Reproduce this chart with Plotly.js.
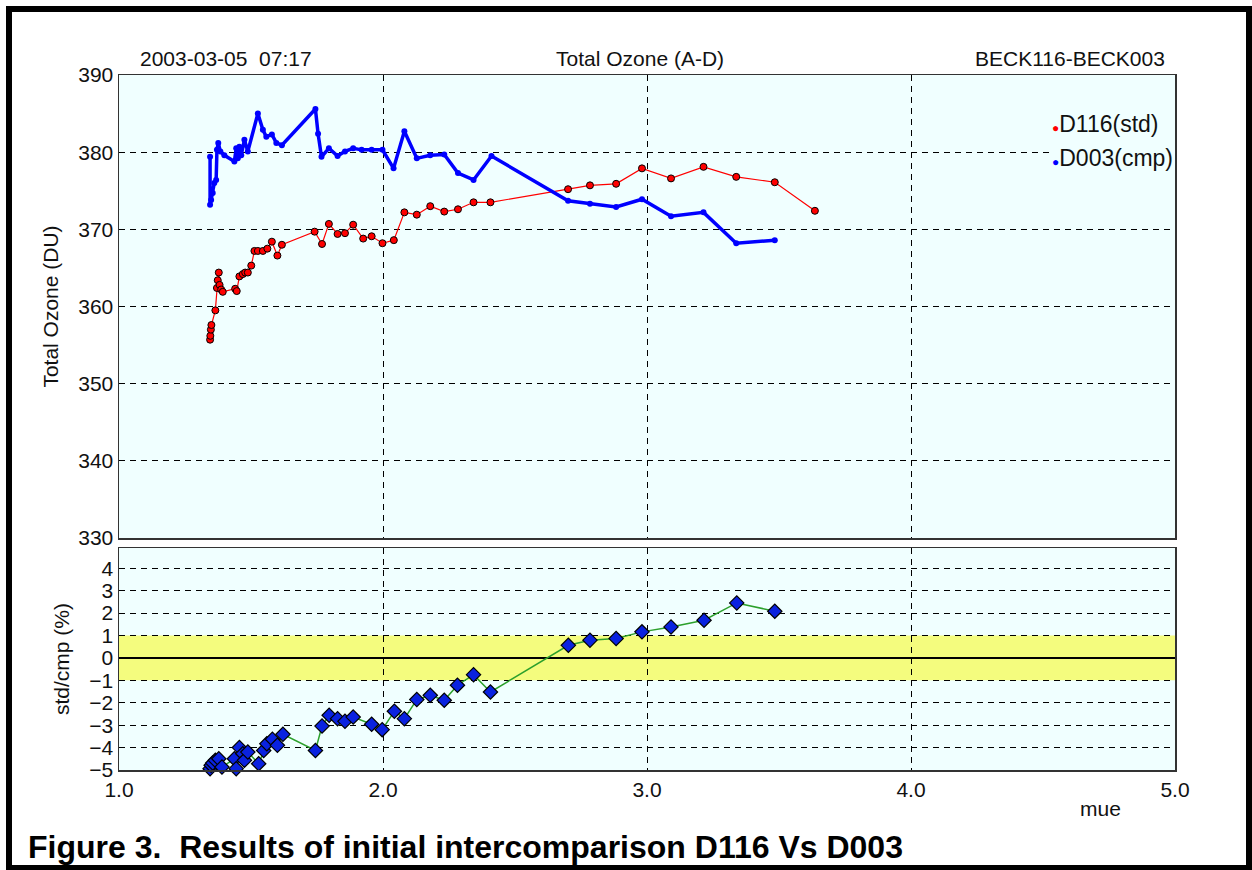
<!DOCTYPE html>
<html>
<head>
<meta charset="utf-8">
<script src="https://cdn.plot.ly/plotly-3.0.1.min.js"></script>
<style>html,body{margin:0;padding:0;background:#fff;}#chart{width:1252px;height:870px;}</style>
</head>
<body>
<div id="chart"></div>
<script>
// ---- data ----
const stdX = [1.345,1.346,1.348,1.350,1.365,1.371,1.374,1.378,1.381,1.387,1.393,1.440,1.446,1.456,1.469,1.478,1.488,1.501,1.513,1.526,1.545,1.562,1.579,1.600,1.617,1.741,1.769,1.795,1.828,1.856,1.887,1.925,1.957,1.998,2.041,2.081,2.128,2.179,2.232,2.284,2.343,2.407,2.701,2.784,2.883,2.981,3.091,3.214,3.338,3.484,3.636];
const stdY = [355.7,356.2,357.0,357.6,359.5,362.4,363.4,364.4,362.8,362.2,361.9,362.3,362.0,363.9,364.2,364.4,364.4,365.3,367.2,367.2,367.2,367.5,368.4,366.6,368.0,369.7,368.1,370.7,369.4,369.5,370.6,368.8,369.1,368.2,368.6,372.2,371.9,373.0,372.3,372.6,373.5,373.5,375.2,375.7,375.9,377.9,376.6,378.1,376.8,376.1,372.4];

const cmpX = [1.345,1.345,1.349,1.355,1.361,1.368,1.371,1.376,1.384,1.399,1.437,1.444,1.450,1.456,1.463,1.475,1.488,1.526,1.545,1.558,1.579,1.596,1.617,1.744,1.754,1.767,1.795,1.828,1.856,1.887,1.919,1.957,1.998,2.040,2.081,2.128,2.179,2.232,2.284,2.343,2.411,2.701,2.784,2.883,2.981,3.091,3.214,3.338,3.484];
const cmpY = [379.4,373.2,373.8,374.7,376.0,376.4,380.3,381.2,380.1,379.6,378.8,380.5,379.2,380.7,379.6,381.6,380.1,385.0,382.9,382.0,382.3,381.2,380.9,385.6,382.4,379.4,380.5,379.5,380.1,380.5,380.3,380.3,380.3,377.9,382.7,379.2,379.6,379.7,377.3,376.4,379.5,373.7,373.3,372.9,373.9,371.7,372.2,368.2,368.6];

const ratioX = [1.345,1.349,1.355,1.365,1.378,1.390,1.437,1.444,1.456,1.469,1.475,1.488,1.529,1.548,1.560,1.581,1.600,1.621,1.744,1.769,1.796,1.828,1.856,1.887,1.957,1.997,2.043,2.081,2.128,2.179,2.232,2.282,2.343,2.407,2.702,2.784,2.883,2.981,3.091,3.216,3.340,3.484];
const ratioY = [-4.94,-4.79,-4.69,-4.57,-4.50,-4.87,-4.50,-4.94,-4.00,-4.27,-4.57,-4.20,-4.72,-4.13,-3.83,-3.63,-3.90,-3.41,-4.13,-3.04,-2.56,-2.71,-2.83,-2.64,-2.96,-3.20,-2.38,-2.71,-1.86,-1.67,-1.89,-1.22,-0.75,-1.52,0.56,0.79,0.86,1.16,1.38,1.68,2.45,2.08];

const ozoneTicks = [330,340,350,360,370,380,390];
const ratioTicks = [-5,-4,-3,-2,-1,0,1,2,3,4];
const mueTicks = [1,2,3,4,5];
const mueTickText = ['1.0','2.0','3.0','4.0','5.0'];
const band = [-1, 1];

const seriesNames = ['D116(std)', 'D003(cmp)'];

// ---- geometry helpers (pixel -> paper) ----
const W = 1252, H = 870, L = 119, R = 77, T = 75, B = 100;
const PW = W - L - R, PH = H - T - B;
const px = v => (v - L) / PW;
const py = v => (H - B - v) / PH;

const FONT = 'Liberation Sans, Arial, sans-serif';
const gridDash = '6px,5px';

const traces = [
  {
    x: stdX, y: stdY, xaxis: 'x2', yaxis: 'y', name: seriesNames[0],
    mode: 'lines+markers', showlegend: false,
    line: {color: '#ff0000', width: 1.2},
    marker: {symbol: 'circle', size: 7, color: '#ff0000', line: {color: '#000', width: 1}}
  },
  {
    x: cmpX, y: cmpY, xaxis: 'x2', yaxis: 'y', name: seriesNames[1],
    mode: 'lines+markers', showlegend: false,
    line: {color: '#0000ff', width: 3.5},
    marker: {symbol: 'circle', size: 6, color: '#0000ff'}
  },
  {
    x: ratioX, y: ratioY, xaxis: 'x', yaxis: 'y2', name: 'std/cmp',
    mode: 'lines+markers', showlegend: false, cliponaxis: false,
    line: {color: '#2ca02c', width: 1.5},
    marker: {symbol: 'diamond', size: 11, color: '#0a22e0', line: {color: '#000', width: 1.2}}
  }
];

const axisCommon = {
  showgrid: true, gridcolor: '#000', gridwidth: 1, griddash: gridDash,
  showline: true, mirror: true, linecolor: '#333', linewidth: 1.5,
  ticks: '', zeroline: false,
  tickfont: {family: FONT, size: 21, color: '#111'}
};

const layout = {
  width: W, height: H,
  margin: {l: L, r: R, t: T, b: B, pad: 0},
  paper_bgcolor: '#ffffff',
  plot_bgcolor: '#f0ffff',
  font: {family: FONT, size: 21, color: '#111'},
  showlegend: false,
  xaxis: Object.assign({}, axisCommon, {
    domain: [0, 1], anchor: 'y2', range: [1, 5],
    tickvals: mueTicks, ticktext: mueTickText
  }),
  xaxis2: Object.assign({}, axisCommon, {
    domain: [0, 1], anchor: 'y', matches: 'x', range: [1, 5],
    tickvals: mueTicks, showticklabels: false
  }),
  yaxis: Object.assign({}, axisCommon, {
    domain: [py(538), 1], anchor: 'x2', range: [330, 390],
    tickvals: ozoneTicks,
    title: {text: 'Total Ozone (DU)', font: {family: FONT, size: 21, color: '#111'}, standoff: 14}
  }),
  yaxis2: Object.assign({}, axisCommon, {
    domain: [0, py(548)], anchor: 'x', range: [-5, 4.9],
    tickvals: ratioTicks,
    zeroline: true, zerolinecolor: '#000', zerolinewidth: 1.5,
    title: {text: 'std/cmp (%)', font: {family: FONT, size: 21, color: '#111'}, standoff: 14}
  }),
  shapes: [
    {type: 'rect', xref: 'x', yref: 'y2', x0: 1, x1: 5, y0: band[0], y1: band[1],
     fillcolor: '#f4fc7e', line: {width: 0}, layer: 'below'},
    {type: 'rect', xref: 'paper', yref: 'paper',
     x0: px(9), x1: px(1249), y0: py(9), y1: py(868),
     line: {color: '#000', width: 6}, fillcolor: 'rgba(0,0,0,0)', layer: 'above'}
  ],
  annotations: [
    {text: '2003-03-05\u00a0\u00a007:17', xref: 'paper', yref: 'paper', x: px(138), y: py(58),
     xanchor: 'left', yanchor: 'middle', showarrow: false, font: {family: FONT, size: 21, color: '#111'}},
    {text: 'Total Ozone (A-D)', xref: 'paper', yref: 'paper', x: px(640), y: py(58),
     xanchor: 'center', yanchor: 'middle', showarrow: false, font: {family: FONT, size: 21, color: '#111'}},
    {text: 'BECK116-BECK003', xref: 'paper', yref: 'paper', x: px(1167), y: py(58),
     xanchor: 'right', yanchor: 'middle', showarrow: false, font: {family: FONT, size: 21, color: '#111'}},
    {text: 'mue', xref: 'paper', yref: 'paper', x: px(1100), y: py(808),
     xanchor: 'center', yanchor: 'middle', showarrow: false, font: {family: FONT, size: 21, color: '#111'}},
    {text: '<span style="color:#ff0000;font-size:12px">●</span>' + seriesNames[0], xref: 'paper', yref: 'paper',
     x: px(1050), y: py(124), xanchor: 'left', yanchor: 'middle', showarrow: false,
     bgcolor: '#f0ffff', borderpad: 1, font: {family: FONT, size: 23, color: '#111'}},
    {text: '<span style="color:#0000ff;font-size:12px">●</span>' + seriesNames[1], xref: 'paper', yref: 'paper',
     x: px(1050), y: py(158), xanchor: 'left', yanchor: 'middle', showarrow: false,
     bgcolor: '#f0ffff', borderpad: 1, font: {family: FONT, size: 23, color: '#111'}},
    {text: '<b>Figure 3.\u00a0 Results of initial intercomparison D116 Vs D003</b>', xref: 'paper', yref: 'paper',
     x: px(26), y: py(847), xanchor: 'left', yanchor: 'middle', showarrow: false,
     font: {family: FONT, size: 32, color: '#000'}}
  ]
};

Plotly.newPlot('chart', traces, layout, {displayModeBar: false, staticPlot: true});
</script>
</body>
</html>
